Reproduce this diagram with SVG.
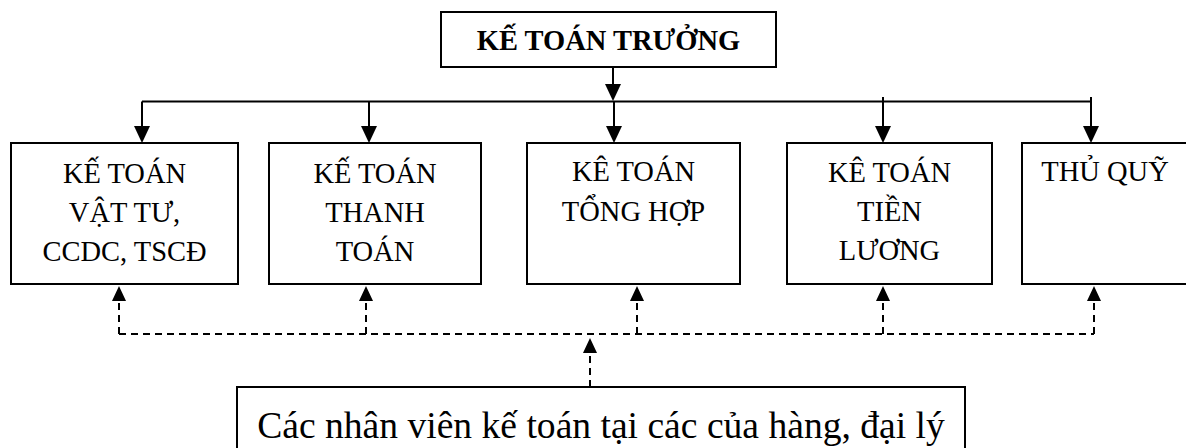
<svg xmlns="http://www.w3.org/2000/svg" width="1186" height="448" viewBox="0 0 1186 448">
  <style>
    .box { fill: #ffffff; stroke: #000000; stroke-width: 2; }
    .lbl { font-family: "Liberation Serif", "Times New Roman", serif; font-size: 28.5px; fill: #000000; text-anchor: middle; }
    .ttl { font-weight: bold; }
    .big { font-size: 37.6px; }
    .solid { fill: none; stroke: #000000; stroke-width: 2; }
    .dash { fill: none; stroke: #000000; stroke-width: 2; stroke-dasharray: 7 5; }
    .head { fill: #000000; stroke: none; }
  </style>
  <defs>
    <!-- arrowheads drawn with the tip at the origin -->
    <path id="downHead" class="head" d="M-8,-17 L8,-17 L0,0 Z"/>
    <path id="upHead" class="head" d="M-7,15 L7,15 L0,0 Z"/>
  </defs>

  <!-- connectors -->
  <g id="connectors">
    <!-- chief accountant down to the distribution bar -->
    <path class="solid" d="M613,67 V88"/>
    <use href="#downHead" x="613" y="101"/>
    <path class="solid" d="M142,101.5 H1091"/>
    <path class="solid" d="M142,101.5 V130"/>
    <use href="#downHead" x="142" y="143"/>
    <path class="solid" d="M369,101.5 V130"/>
    <use href="#downHead" x="369" y="143"/>
    <path class="solid" d="M614,101.5 V130"/>
    <use href="#downHead" x="614" y="143"/>
    <path class="solid" d="M883,97 V130"/>
    <use href="#downHead" x="883" y="143"/>
    <path class="solid" d="M1091,97 V130"/>
    <use href="#downHead" x="1091" y="143"/>

    <!-- branch accountants reporting upward -->
    <path class="dash" d="M119,334 H1094"/>
    <path class="dash" d="M119,334 V298"/>
    <use href="#upHead" x="119" y="286"/>
    <path class="dash" d="M366,334 V298"/>
    <use href="#upHead" x="366" y="286"/>
    <path class="dash" d="M637,334 V298"/>
    <use href="#upHead" x="637" y="286"/>
    <path class="dash" d="M883,334 V298"/>
    <use href="#upHead" x="883" y="286"/>
    <path class="dash" d="M1094,334 V298"/>
    <use href="#upHead" x="1094" y="286"/>
    <path class="dash" d="M590,387 V350"/>
    <use href="#upHead" x="590" y="338"/>
  </g>

  <g id="ke-toan-truong">
    <rect class="box" x="441" y="12" width="335" height="55"/>
    <text class="lbl ttl" x="608.5" y="50">KẾ TOÁN TRƯỞNG</text>
  </g>

  <g id="ke-toan-vat-tu">
    <rect class="box" x="11" y="143" width="227" height="141"/>
    <text class="lbl" x="124.5" y="183">KẾ TOÁN</text>
    <text class="lbl" x="124.5" y="222">VẬT TƯ,</text>
    <text class="lbl" x="124.5" y="261">CCDC, TSCĐ</text>
  </g>

  <g id="ke-toan-thanh-toan">
    <rect class="box" x="269" y="143" width="212" height="141"/>
    <text class="lbl" x="375" y="183">KẾ TOÁN</text>
    <text class="lbl" x="375" y="222">THANH</text>
    <text class="lbl" x="375" y="261">TOÁN</text>
  </g>

  <g id="ke-toan-tong-hop">
    <rect class="box" x="527" y="143" width="213" height="141"/>
    <text class="lbl" x="633.5" y="181">KÊ TOÁN</text>
    <text class="lbl" x="633.5" y="221">TỔNG HỢP</text>
  </g>

  <g id="ke-toan-tien-luong">
    <rect class="box" x="787" y="143" width="205" height="141"/>
    <text class="lbl" x="889.5" y="182">KÊ TOÁN</text>
    <text class="lbl" x="889.5" y="221">TIỀN</text>
    <text class="lbl" x="889.5" y="260">LƯƠNG</text>
  </g>

  <g id="thu-quy">
    <rect class="box" x="1022" y="143" width="180" height="141"/>
    <text class="lbl" x="1105" y="181">THỦ QUỸ</text>
  </g>

  <g id="nhan-vien-cua-hang">
    <rect class="box" x="237" y="387" width="728" height="80"/>
    <text class="lbl big" x="601" y="438">Các nhân viên kế toán tại các của hàng, đại lý</text>
  </g>
</svg>
